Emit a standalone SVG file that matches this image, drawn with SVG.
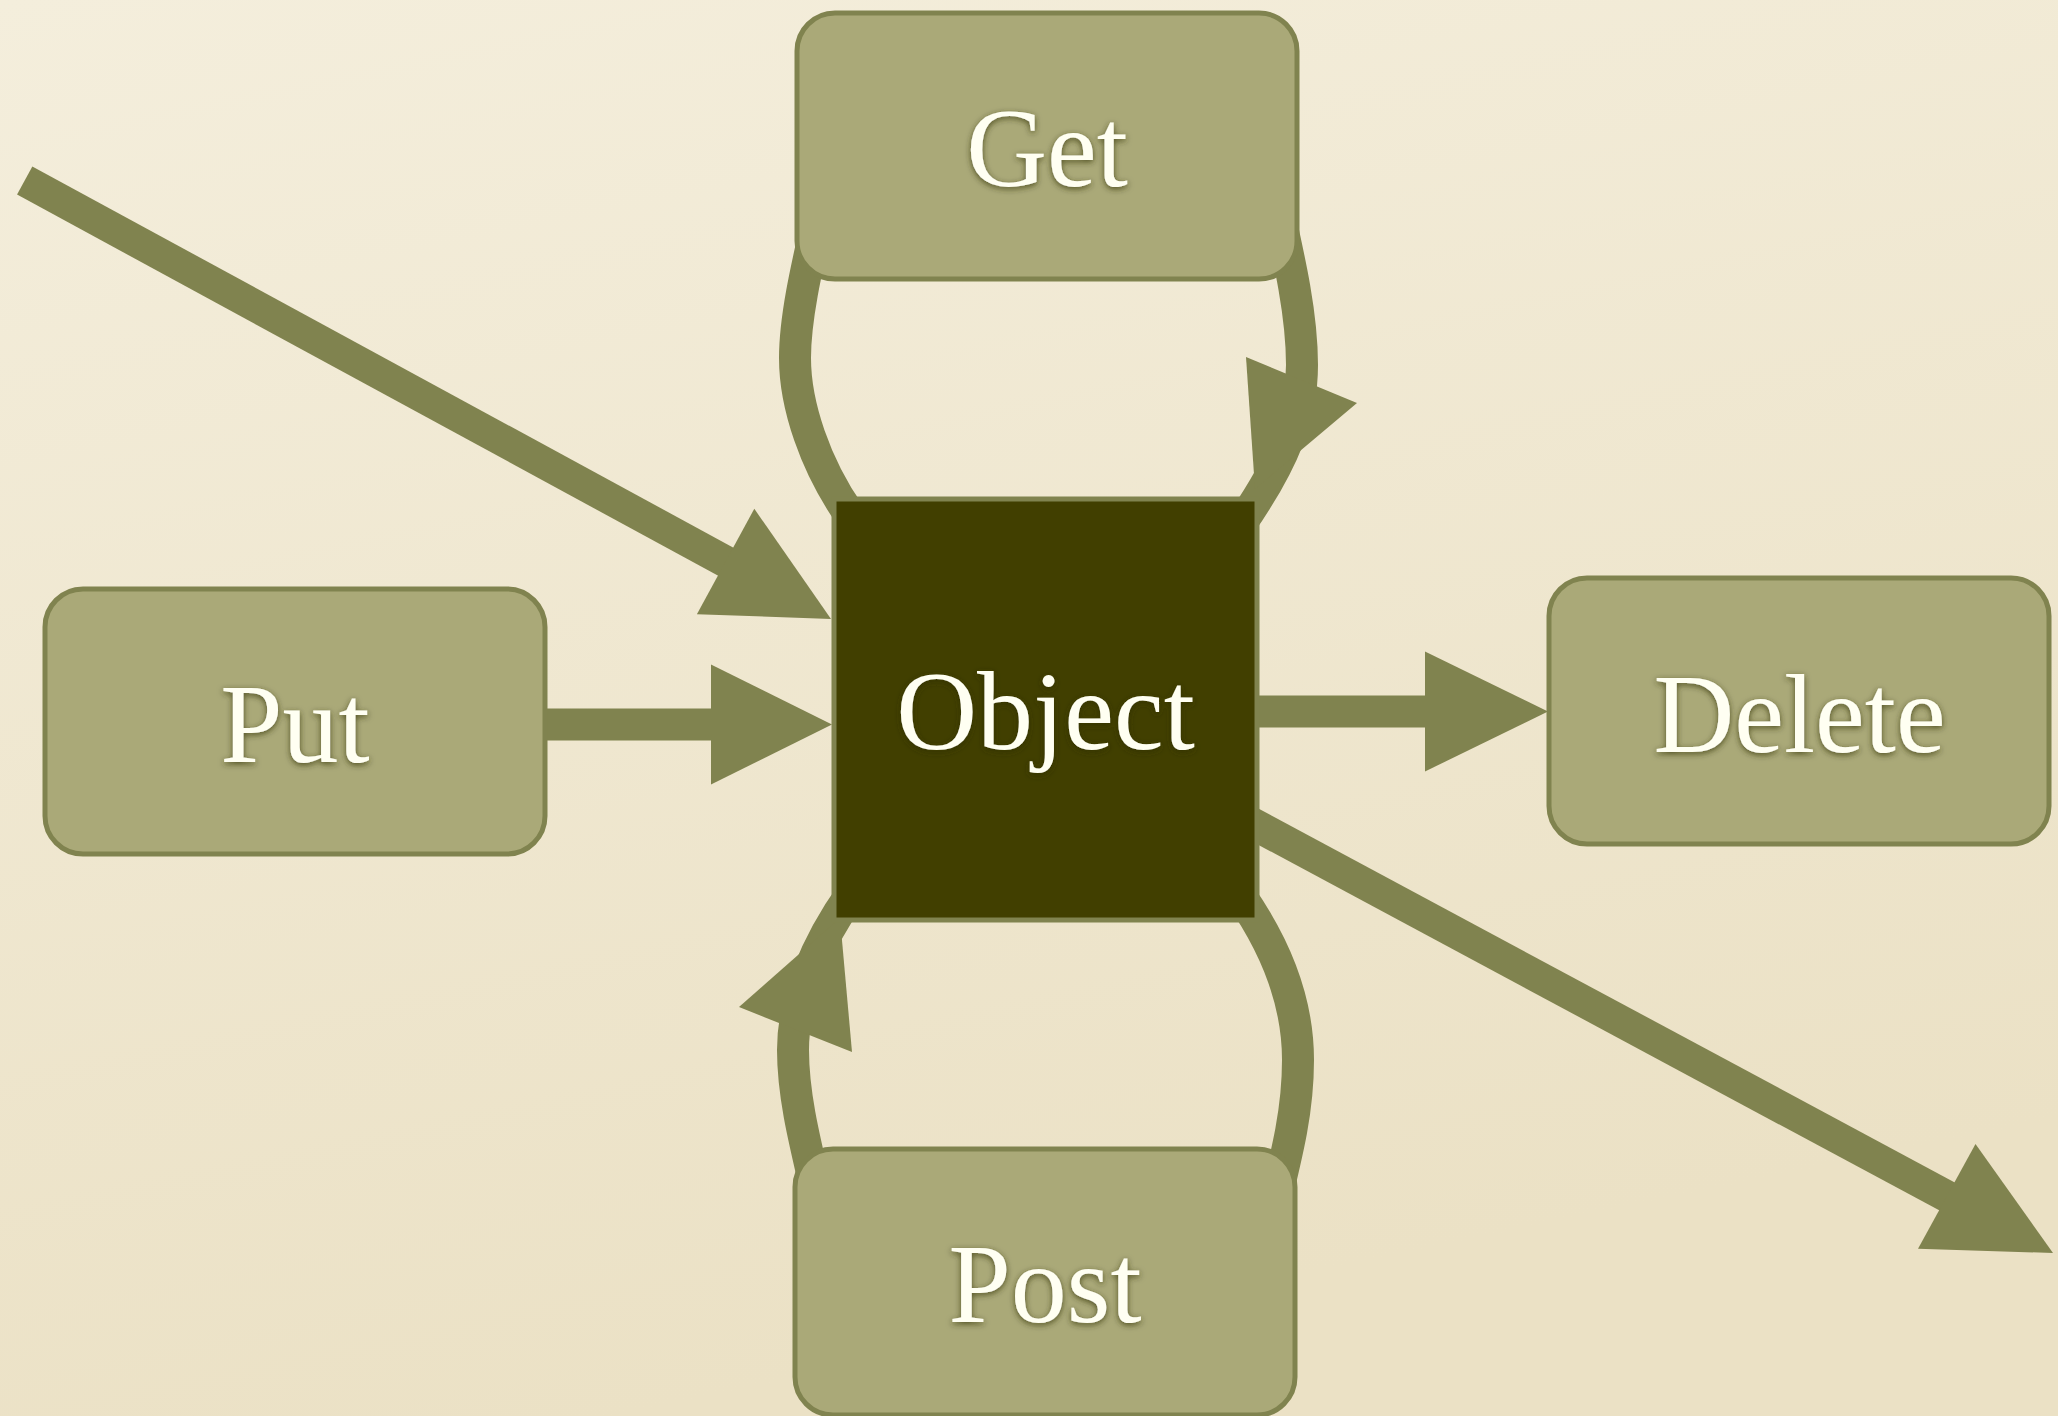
<svg xmlns="http://www.w3.org/2000/svg" width="2058" height="1416" viewBox="0 0 2058 1416">
  <defs>
    <linearGradient id="bg" x1="0" y1="0" x2="0.3" y2="1">
      <stop offset="0" stop-color="#f4eedc"/>
      <stop offset="1" stop-color="#ebe1c5"/>
    </linearGradient>
    <filter id="txtShadow" x="-20%" y="-30%" width="140%" height="160%">
      <feGaussianBlur in="SourceAlpha" stdDeviation="3"/>
      <feOffset dx="0" dy="2" result="b"/>
      <feFlood flood-color="#2e2e08" flood-opacity="0.75"/>
      <feComposite in2="b" operator="in" result="s"/>
      <feMerge>
        <feMergeNode in="s"/>
        <feMergeNode in="SourceGraphic"/>
      </feMerge>
    </filter>
  </defs>
  <style>
    .conn { fill: none; stroke: #80834f; stroke-width: 32; stroke-linecap: butt; }
    .head { fill: #80834f; stroke: none; }
    .box { fill: #aaa978; stroke: #80834f; stroke-width: 5; }
    .obj { fill: #413f00; stroke: #80834f; stroke-width: 5; }
    .lbl { font-family: "Liberation Serif", "Times New Roman", serif; font-size: 112px; fill: #fffff2; text-anchor: middle; filter: url(#txtShadow); }
  </style>
  <rect x="0" y="0" width="2058" height="1416" fill="url(#bg)"/>

  <g id="connectors">
    <!-- incoming diagonal -->
    <line class="conn" x1="24.7" y1="180.5" x2="730" y2="564"/>
    <polygon class="head" points="754.3,508.8 831,619 696.9,614.2"/>
    <!-- Put -> Object -->
    <line class="conn" x1="540" y1="724.5" x2="715" y2="724.5"/>
    <polygon class="head" points="711,664.5 832,724.5 711,784.5"/>
    <!-- Object -> Delete -->
    <line class="conn" x1="1250" y1="711.5" x2="1430" y2="711.5"/>
    <polygon class="head" points="1425,651.5 1548,711.5 1425,771.5"/>
    <!-- outgoing diagonal -->
    <line class="conn" x1="1231.6" y1="812.3" x2="1950" y2="1198"/>
    <polygon class="head" points="1975.5,1144 2053,1253 1918,1248.7"/>
    <!-- Object <-> Get loop -->
    <path class="conn" d="M 822 200 C 808 262, 795 315, 795 358 C 795 405, 815 465, 850 515"/>
    <path class="conn" d="M 1276 200 C 1290 262, 1302 315, 1302 365 C 1302 415, 1285 460, 1240 525"/>
    <polygon class="head" points="1246,357 1357,403 1255,489"/>
    <!-- Object <-> Post loop -->
    <path class="conn" d="M 822 1215 C 807 1150, 793 1100, 793 1050 C 793 1000, 815 945, 852 893"/>
    <polygon class="head" points="739,1007 852,1052 840,918"/>
    <path class="conn" d="M 1240 895 C 1275 945, 1298 1000, 1298 1060 C 1298 1110, 1288 1150, 1272 1215"/>
  </g>

  <g id="node-get">
    <rect class="box" x="797" y="13" width="500" height="266" rx="38" ry="38"/>
    <text class="lbl" x="1047" y="186">Get</text>
  </g>
  <g id="node-put">
    <rect class="box" x="45" y="589" width="500" height="265" rx="38" ry="38"/>
    <text class="lbl" x="295" y="762">Put</text>
  </g>
  <g id="node-object">
    <rect class="obj" x="834" y="499" width="423" height="421"/>
    <text class="lbl" x="1045.5" y="749">Object</text>
  </g>
  <g id="node-delete">
    <rect class="box" x="1549" y="578" width="500" height="266" rx="38" ry="38"/>
    <text class="lbl" x="1799.5" y="752">Delete</text>
  </g>
  <g id="node-post">
    <rect class="box" x="795" y="1149" width="500" height="266" rx="38" ry="38"/>
    <text class="lbl" x="1045" y="1322">Post</text>
  </g>
</svg>
